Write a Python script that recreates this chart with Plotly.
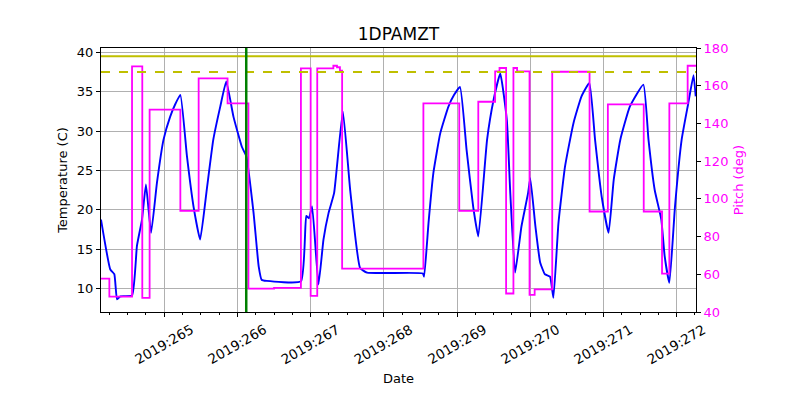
import plotly.graph_objects as go

# Temperature (1DPAMZT) samples: day-of-year, degC
temp_day = [264.136, 264.263, 264.318, 264.355, 264.40, 264.56, 264.627, 264.696, 264.75, 264.82,
            264.90, 264.99, 265.08, 265.15, 265.22, 265.31, 265.40, 265.49, 265.58, 265.67, 265.765,
            265.847, 265.946, 266.06, 266.12, 266.22, 266.29, 266.33, 266.40, 266.867, 266.94,
            266.976, 267.02, 267.107, 267.175, 267.245, 267.32, 267.44, 267.54, 267.675, 267.77,
            268.533, 268.55, 268.61, 268.677, 268.77, 268.882, 268.96, 269.04, 269.13, 269.22,
            269.29, 269.41, 269.50, 269.59, 269.68, 269.725, 269.793, 269.88, 269.97, 270.0,
            270.07, 270.135, 270.2, 270.27, 270.316, 270.385, 270.475, 270.59, 270.70, 270.807,
            270.885, 270.975, 271.07, 271.14, 271.23, 271.36, 271.545, 271.615, 271.70, 271.79,
            271.836, 271.90, 271.977, 272.068, 272.158, 272.23, 272.26]
temp_val = [18.75, 12.4, 11.8, 8.6, 9.0, 9.1, 15.4, 18.75, 23.2, 17.05,
            23.4, 28.9, 31.8, 33.4, 34.6, 26.8, 20.4, 16.2, 22.5, 28.9, 33.1,
            36.3, 31.8, 28.0, 26.8, 19.6, 12.8, 11.1, 10.95, 10.9, 19.2,
            18.9, 20.4, 10.5, 16.2, 19.6, 22.1, 32.5, 22.5, 12.6, 12.0,
            11.9, 11.5, 18.3, 24.7, 29.7, 33.1, 34.6, 35.6, 27.6, 20.4,
            16.6, 28.9, 34.0, 37.3, 31.4, 22.5, 12.0, 17.9, 22.1, 24.0,
            17.9, 13.3, 11.8, 11.5, 8.8, 18.3, 25.5, 31.0, 34.4, 36.1,
            28.9, 21.7, 17.05, 23.8, 28.9, 33.1, 35.9, 28.9, 22.5, 18.75,
            14.1, 10.7, 20.4, 28.9, 33.5, 37.1, 34.4]

# Pitch steps: time of change, new value (deg)
pitch_day = [264.136, 264.25, 264.56, 264.70, 264.80, 265.22, 265.47, 265.865, 266.15, 266.50,
             266.867, 267.0, 267.09, 267.31, 267.36, 267.40, 267.43, 268.54, 269.03, 269.29,
             269.52, 269.58, 269.67, 269.77, 269.82, 269.99, 270.06, 270.30, 270.81, 271.06,
             271.55, 271.80, 271.90, 272.15, 272.264]
pitch_val = [57.7, 48.2, 170.3, 47.5, 147.3, 93.6, 163.9, 150.6, 52.4, 52.8,
             169.2, 48.5, 169.2, 170.6, 169.8, 168.0, 63.0, 150.6, 93.6, 151.5,
             167.6, 169.4, 49.8, 169.4, 167.6, 49.1, 52.0, 167.4, 93.3, 150.1,
             93.3, 60.4, 150.6, 170.6, 170.6]

limit_solid = 39.5
limit_dashed = 37.5
event_day = 266.12

tick_days = [265, 266, 267, 268, 269, 270, 271, 272]
tick_labels = ["2019:265", "2019:266", "2019:267", "2019:268",
               "2019:269", "2019:270", "2019:271", "2019:272"]

x_range = [264.136, 272.264]
temp_range = [7.0, 40.55]
pitch_range = [40, 180]

fig = go.Figure()
fig.add_trace(go.Scatter(x=temp_day, y=temp_val, mode="lines", line_shape="spline",
                         line=dict(color="#0000ff", width=1.9, smoothing=0.4),
                         yaxis="y", showlegend=False))
fig.add_trace(go.Scatter(x=pitch_day, y=pitch_val, mode="lines", line_shape="hv",
                         line=dict(color="#ff00ff", width=1.8), yaxis="y2", showlegend=False))

fig.add_shape(type="line", xref="paper", yref="y", x0=0, x1=1, y0=limit_solid, y1=limit_solid,
              line=dict(color="#bfbf00", width=2), layer="above")
fig.add_shape(type="line", xref="paper", yref="y", x0=0, x1=1, y0=limit_dashed, y1=limit_dashed,
              line=dict(color="#bfbf00", width=2, dash="dash"), layer="above")
fig.add_shape(type="line", xref="x", yref="paper", x0=event_day, x1=event_day, y0=0, y1=1,
              line=dict(color="#008000", width=2.5), layer="above")

# rotated, centred date labels (matplotlib-style)
for d, lab in zip(tick_days, tick_labels):
    fig.add_annotation(x=d, xref="x", y=-0.123, yref="paper", text=lab, showarrow=False,
                       textangle=-30, xanchor="center", yanchor="middle",
                       font=dict(family="DejaVu Sans", size=13.5, color="black"))

font = "DejaVu Sans"
fig.update_layout(
    width=800, height=400,
    margin=dict(l=101, r=104, t=48, b=88),
    paper_bgcolor="white", plot_bgcolor="white",
    font=dict(family=font, size=13, color="black"),
    title=dict(text="1DPAMZT", x=0.5, xref="paper", xanchor="center", y=0.915, yanchor="middle",
               font=dict(size=17, color="black")),
    xaxis=dict(range=x_range, tickmode="array", tickvals=tick_days, ticktext=[""] * len(tick_days),
               ticks="outside", ticklen=4, tickcolor="black",
               showgrid=True, gridcolor="#b0b0b0", gridwidth=0.8,
               showline=True, linecolor="black", linewidth=1, mirror=True, zeroline=False,
               minor=dict(dtick=0.25, tick0=265, ticks="outside", ticklen=2, tickcolor="black",
                          showgrid=False),
               title=dict(text="Date", font=dict(size=13), standoff=55)),
    yaxis=dict(range=temp_range, tickmode="linear", tick0=10, dtick=5,
               ticks="outside", ticklen=4, tickcolor="black",
               showgrid=True, gridcolor="#b0b0b0", gridwidth=0.8,
               showline=True, linecolor="black", linewidth=1, zeroline=False,
               title=dict(text="Temperature (C)", font=dict(size=13), standoff=6)),
    yaxis2=dict(range=pitch_range, overlaying="y", side="right", tickmode="linear", tick0=40, dtick=20,
                ticks="outside", ticklen=4, tickcolor="black", showgrid=False,
                showline=True, linecolor="black", linewidth=1, zeroline=False,
                tickfont=dict(color="#ff00ff"),
                title=dict(text="Pitch (deg)", font=dict(size=13, color="#ff00ff"), standoff=6)),
)

fig.write_html("out.html")
